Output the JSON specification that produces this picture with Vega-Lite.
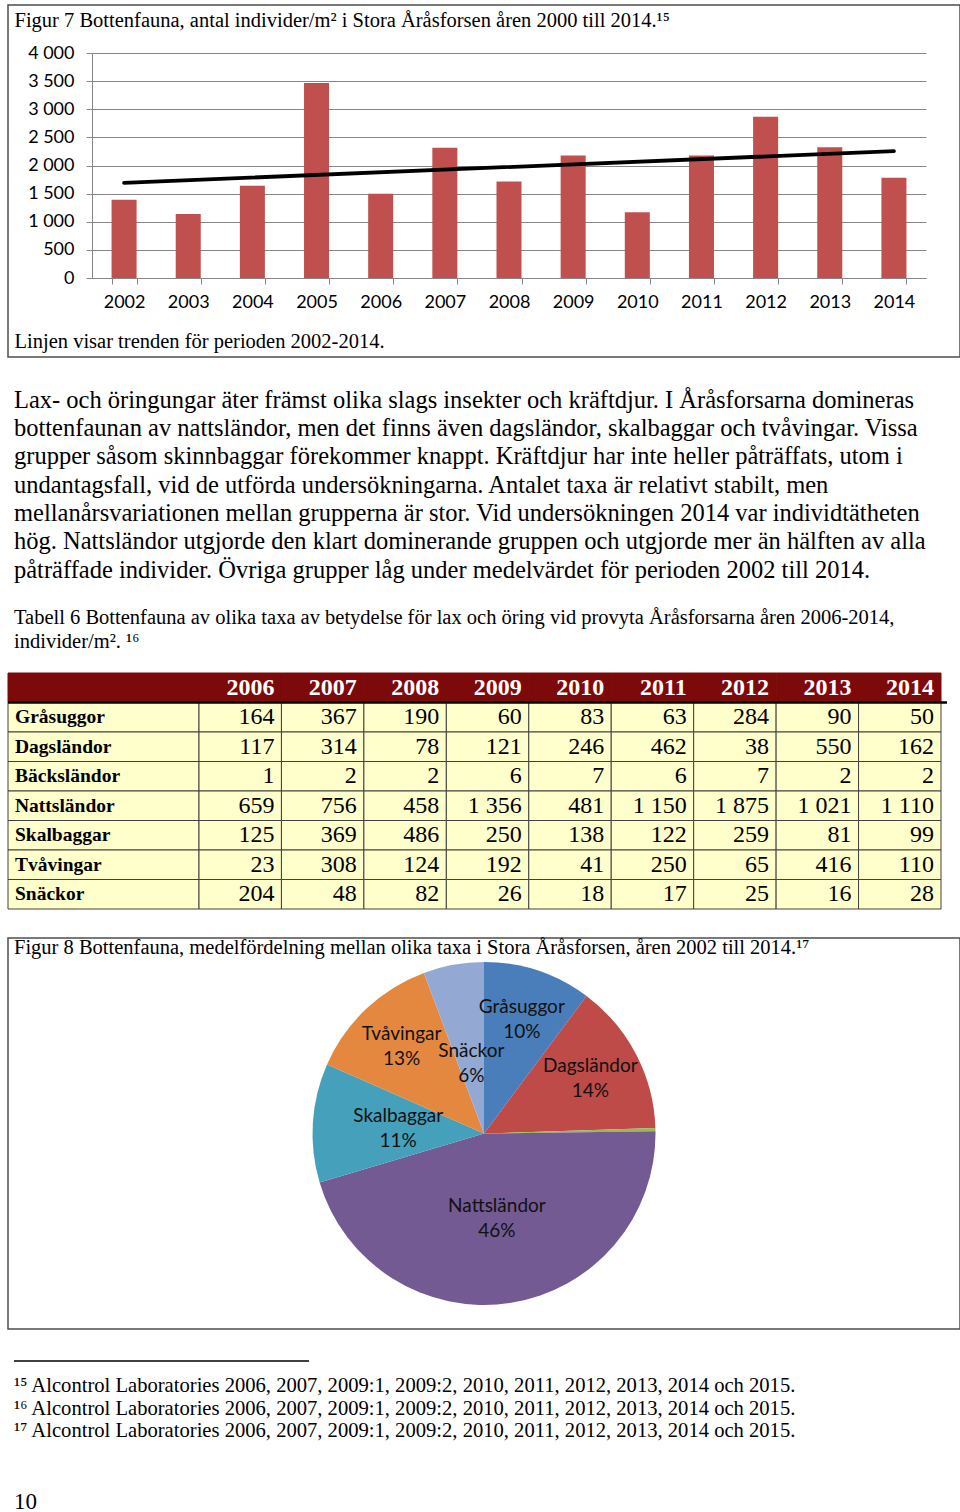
{
  "$schema": "https://vega.github.io/schema/vega-lite/v6.json",
  "padding": {"left": 6, "top": 4, "right": 2, "bottom": 0},
  "autosize": {"type": "pad"},
  "background": "white",
  "spacing": 0,
  "bounds": "flush",
  "center": true,
  "config": {
    "view": {"stroke": null},
    "locale": {"number": {"decimal": ",", "thousands": "\u00a0", "grouping": [3], "currency": ["", ""]}},
    "text": {"font": "Liberation Serif", "color": "#000"}
  },
  "datasets": {
    "bars": [
      {"year": "2002", "value": 1389}, {"year": "2003", "value": 1140}, {"year": "2004", "value": 1638},
      {"year": "2005", "value": 3466}, {"year": "2006", "value": 1496}, {"year": "2007", "value": 2315},
      {"year": "2008", "value": 1715}, {"year": "2009", "value": 2178}, {"year": "2010", "value": 1168},
      {"year": "2011", "value": 2178}, {"year": "2012", "value": 2867}, {"year": "2013", "value": 2326},
      {"year": "2014", "value": 1781}
    ],
    "trend": [{"year": "2002", "value": 1692}, {"year": "2014", "value": 2255}],
    "para": [
      {"line": 1, "text": "Lax- och öringungar äter främst olika slags insekter och kräftdjur. I Åråsforsarna domineras"},
      {"line": 2, "text": "bottenfaunan av nattsländor, men det finns även dagsländor, skalbaggar och tvåvingar. Vissa"},
      {"line": 3, "text": "grupper såsom skinnbaggar förekommer knappt. Kräftdjur har inte heller påträffats, utom i"},
      {"line": 4, "text": "undantagsfall, vid de utförda undersökningarna. Antalet taxa är relativt stabilt, men"},
      {"line": 5, "text": "mellanårsvariationen mellan grupperna är stor. Vid undersökningen 2014 var individtätheten"},
      {"line": 6, "text": "hög. Nattsländor utgjorde den klart dominerande gruppen och utgjorde mer än hälften av alla"},
      {"line": 7, "text": "påträffade individer. Övriga grupper låg under medelvärdet för perioden 2002 till 2014."}
    ],
    "caption": [
      {"line": 1, "text": "Tabell 6 Bottenfauna av olika taxa av betydelse för lax och öring vid provyta Åråsforsarna åren 2006-2014,"},
      {"line": 2, "text": "individer/m². ¹⁶"}
    ],
    "table": [
      {"taxon": "Gråsuggor", "2006": 164, "2007": 367, "2008": 190, "2009": 60, "2010": 83, "2011": 63, "2012": 284, "2013": 90, "2014": 50},
      {"taxon": "Dagsländor", "2006": 117, "2007": 314, "2008": 78, "2009": 121, "2010": 246, "2011": 462, "2012": 38, "2013": 550, "2014": 162},
      {"taxon": "Bäcksländor", "2006": 1, "2007": 2, "2008": 2, "2009": 6, "2010": 7, "2011": 6, "2012": 7, "2013": 2, "2014": 2},
      {"taxon": "Nattsländor", "2006": 659, "2007": 756, "2008": 458, "2009": 1356, "2010": 481, "2011": 1150, "2012": 1875, "2013": 1021, "2014": 1110},
      {"taxon": "Skalbaggar", "2006": 125, "2007": 369, "2008": 486, "2009": 250, "2010": 138, "2011": 122, "2012": 259, "2013": 81, "2014": 99},
      {"taxon": "Tvåvingar", "2006": 23, "2007": 308, "2008": 124, "2009": 192, "2010": 41, "2011": 250, "2012": 65, "2013": 416, "2014": 110},
      {"taxon": "Snäckor", "2006": 204, "2007": 48, "2008": 82, "2009": 26, "2010": 18, "2011": 17, "2012": 25, "2013": 16, "2014": 28}
    ],
    "years": [
      {"year": "2006"}, {"year": "2007"}, {"year": "2008"}, {"year": "2009"}, {"year": "2010"},
      {"year": "2011"}, {"year": "2012"}, {"year": "2013"}, {"year": "2014"}
    ],
    "pie": [
      {"nr": 1, "taxon": "Gråsuggor", "share": 0.102},
      {"nr": 2, "taxon": "Dagsländor", "share": 0.143},
      {"nr": 3, "taxon": "Bäcksländor", "share": 0.003},
      {"nr": 4, "taxon": "Nattsländor", "share": 0.456},
      {"nr": 5, "taxon": "Skalbaggar", "share": 0.112},
      {"nr": 6, "taxon": "Tvåvingar", "share": 0.127},
      {"nr": 7, "taxon": "Snäckor", "share": 0.057}
    ],
    "notes": [
      {"nr": 15, "text": "¹⁵ Alcontrol Laboratories 2006, 2007, 2009:1, 2009:2, 2010, 2011, 2012, 2013, 2014 och 2015."},
      {"nr": 16, "text": "¹⁶ Alcontrol Laboratories 2006, 2007, 2009:1, 2009:2, 2010, 2011, 2012, 2013, 2014 och 2015."},
      {"nr": 17, "text": "¹⁷ Alcontrol Laboratories 2006, 2007, 2009:1, 2009:2, 2010, 2011, 2012, 2013, 2014 och 2015."}
    ],
    "page": [{"text": "10"}]
  },
  "vconcat": [
    {
      "width": 952,
      "height": 352,
      "view": {"stroke": "#4d4d4d", "strokeWidth": 1.5},
      "encoding": {
        "x": {
          "field": "year", "type": "ordinal",
          "scale": {"range": [84, 918], "paddingInner": 0.61, "paddingOuter": 0.305},
          "axis": {
            "orient": "bottom", "offset": -79, "labelAngle": 0, "labelFont": "Lato", "labelFontSize": 18,
            "labelColor": "#000", "labelPadding": 9, "domainColor": "#868686", "tickColor": "#868686",
            "tickSize": 6, "tickBand": "extent", "grid": false,
            "title": "Linjen visar trenden för perioden 2002-2014.",
            "titleFont": "Liberation Serif", "titleFontSize": 20.5, "titleFontWeight": "normal", "titleColor": "#000",
            "titleAlign": "left", "titleBaseline": "alphabetic", "titleX": 6, "titleY": 69.7
          }
        },
        "y": {
          "field": "value", "type": "quantitative",
          "scale": {"domain": [0, 4000], "range": [273, 48], "nice": false},
          "axis": {
            "values": [0, 500, 1000, 1500, 2000, 2500, 3000, 3500, 4000], "format": ",d",
            "offset": -84, "grid": true, "gridColor": "#868686", "gridWidth": 1,
            "domainColor": "#868686", "tickColor": "#868686", "tickSize": 6,
            "labelFont": "Lato", "labelFontSize": 18, "labelColor": "#000", "labelPadding": 12,
            "title": "Figur 7 Bottenfauna, antal individer/m² i Stora Åråsforsen åren 2000 till 2014.¹⁵",
            "titleAngle": 0, "titleAlign": "left", "titleBaseline": "alphabetic", "titleX": -78, "titleY": 21,
            "titleFont": "Liberation Serif", "titleFontSize": 20.5, "titleFontWeight": "normal", "titleColor": "#000"
          }
        }
      },
      "layer": [
        {"data": {"name": "bars"}, "mark": {"type": "bar", "color": "#C0504D"}},
        {"data": {"name": "trend"}, "mark": {"type": "line", "color": "#000", "strokeWidth": 3.8, "strokeCap": "round"}}
      ]
    },
    {
      "width": 940,
      "height": 316,
      "resolve": {"scale": {"y": "independent"}},
      "layer": [
        {
          "data": {"name": "para"},
          "mark": {"type": "text", "align": "left", "baseline": "alphabetic", "font": "Liberation Serif", "fontSize": 24.5},
          "encoding": {
            "x": {"value": 0},
            "y": {"field": "line", "type": "ordinal", "scale": {"type": "point", "padding": 0, "range": [50.7, 220.7]}, "axis": null},
            "text": {"field": "text"}
          }
        },
        {
          "data": {"name": "caption"},
          "mark": {"type": "text", "align": "left", "baseline": "alphabetic", "font": "Liberation Serif", "fontSize": 20.5},
          "encoding": {
            "x": {"value": 0},
            "y": {"field": "line", "type": "ordinal", "scale": {"type": "point", "padding": 0, "range": [267.3, 290.7]}, "axis": null},
            "text": {"field": "text"}
          }
        }
      ]
    },
    {
      "width": 952,
      "height": 265,
      "resolve": {"scale": {"x": "independent"}},
      "layer": [
        {
          "data": {"values": [{"taxon": "header"}]},
          "mark": {"type": "rect", "fill": "#7d0a0a", "stroke": "#7d0a0a"},
          "encoding": {
            "x": {"datum": "label", "type": "nominal", "scale": {"domain": ["label"], "range": [0, 191], "paddingInner": 0, "paddingOuter": 0}, "axis": null},
            "y": {"field": "taxon", "type": "nominal", "scale": {"domain": ["header", "Gråsuggor", "Dagsländor", "Bäcksländor", "Nattsländor", "Skalbaggar", "Tvåvingar", "Snäckor"], "range": [0, 236], "paddingInner": 0, "paddingOuter": 0}, "axis": null}
          }
        },
        {
          "data": {"name": "table"},
          "mark": {"type": "rect", "fill": "#FFFFCC", "stroke": "#404040", "strokeWidth": 1},
          "encoding": {
            "x": {"datum": "label", "type": "nominal", "scale": {"domain": ["label"], "range": [0, 191], "paddingInner": 0, "paddingOuter": 0}, "axis": null},
            "y": {"field": "taxon", "type": "nominal", "axis": null}
          }
        },
        {
          "data": {"name": "table"},
          "mark": {"type": "text", "align": "left", "baseline": "middle", "dx": 7, "fontWeight": "bold", "fontSize": 19.5, "font": "Liberation Serif"},
          "encoding": {
            "x": {"value": 0},
            "y": {"field": "taxon", "type": "nominal", "axis": null},
            "text": {"field": "taxon"}
          }
        },
        {
          "data": {"name": "years"},
          "mark": {"type": "rect", "fill": "#7d0a0a", "stroke": "#7d0a0a"},
          "encoding": {
            "x": {"field": "year", "type": "ordinal", "scale": {"range": [191, 933], "paddingInner": 0, "paddingOuter": 0}, "axis": null},
            "y": {"datum": "header", "type": "nominal", "axis": null}
          }
        },
        {
          "data": {"name": "table"},
          "transform": [{"fold": ["2006", "2007", "2008", "2009", "2010", "2011", "2012", "2013", "2014"], "as": ["year", "value"]}],
          "mark": {"type": "rect", "fill": "#FFFFCC", "stroke": "#404040", "strokeWidth": 1},
          "encoding": {
            "x": {"field": "year", "type": "ordinal", "scale": {"range": [191, 933], "paddingInner": 0, "paddingOuter": 0}, "axis": null},
            "y": {"field": "taxon", "type": "nominal", "axis": null}
          }
        },
        {
          "data": {"name": "years"},
          "mark": {"type": "text", "align": "right", "baseline": "middle", "dx": 34.2, "fontWeight": "bold", "fontSize": 24, "font": "Liberation Serif", "color": "#fff"},
          "encoding": {
            "x": {"field": "year", "type": "ordinal", "scale": {"range": [191, 933], "paddingInner": 0, "paddingOuter": 0}, "axis": null},
            "y": {"datum": "header", "type": "nominal", "axis": null},
            "text": {"field": "year"}
          }
        },
        {
          "data": {"name": "table"},
          "transform": [{"fold": ["2006", "2007", "2008", "2009", "2010", "2011", "2012", "2013", "2014"], "as": ["year", "value"]}],
          "mark": {"type": "text", "align": "right", "baseline": "middle", "dx": 34.2, "fontSize": 24, "font": "Liberation Serif"},
          "encoding": {
            "x": {"field": "year", "type": "ordinal", "scale": {"range": [191, 933], "paddingInner": 0, "paddingOuter": 0}, "axis": null},
            "y": {"field": "taxon", "type": "nominal", "axis": null},
            "text": {"field": "value", "type": "quantitative", "format": ",d"}
          }
        },
        {
          "data": {"name": "table"},
          "transform": [{"filter": "datum.taxon == 'Gråsuggor'"}],
          "mark": {"type": "rule", "color": "#000", "strokeWidth": 2.5},
          "encoding": {
            "x": {"datum": 0, "type": "quantitative", "scale": {"domain": [0, 1], "range": [0, 939]}, "axis": null},
            "x2": {"datum": 1},
            "y": {"field": "taxon", "type": "nominal", "bandPosition": 0, "axis": null}
          }
        }
      ]
    },
    {
      "width": 952,
      "height": 391,
      "view": {"stroke": "#4d4d4d", "strokeWidth": 1.5},
      "title": {
        "text": "Figur 8 Bottenfauna, medelfördelning mellan olika taxa i Stora Åråsforsen, åren 2002 till 2014.¹⁷",
        "anchor": "start", "frame": "group", "offset": -24, "dx": 6, "dy": 12, "baseline": "alphabetic",
        "font": "Liberation Serif", "fontSize": 20.5, "fontWeight": "normal", "color": "#000"
      },
      "data": {"name": "pie"},
      "encoding": {
        "theta": {"field": "share", "type": "quantitative", "stack": true},
        "order": {"field": "nr", "type": "quantitative"}
      },
      "layer": [
        {"mark": {"type": "arc", "outerRadius": 171.5},
         "encoding": {"color": {"field": "taxon", "type": "nominal",
           "scale": {"domain": ["Gråsuggor", "Dagsländor", "Bäcksländor", "Nattsländor", "Skalbaggar", "Tvåvingar", "Snäckor"],
                     "range": ["#4a7ebb", "#be4b48", "#98b954", "#735a93", "#45a0bc", "#e4883f", "#93a9d3"]},
           "legend": null}}},
        {"mark": {"type": "text", "radius": 120, "dy": -12.5, "font": "Lato", "fontSize": 19, "color": "#111"},
         "encoding": {"detail": {"field": "taxon"}, "text": {"condition": {"test": "indexof(['Gråsuggor','Dagsländor','Tvåvingar'], datum.taxon) < 0", "value": ""}, "field": "taxon"}}},
        {"mark": {"type": "text", "radius": 120, "dy": 12.5, "font": "Lato", "fontSize": 19, "color": "#111"},
         "encoding": {"detail": {"field": "taxon"}, "text": {"condition": {"test": "indexof(['Gråsuggor','Dagsländor','Tvåvingar'], datum.taxon) < 0", "value": ""}, "field": "share", "type": "quantitative", "format": ".0%"}}},
        {"mark": {"type": "text", "radius": 86, "dy": -12.5, "font": "Lato", "fontSize": 19, "color": "#111"},
         "encoding": {"detail": {"field": "taxon"}, "text": {"condition": {"test": "indexof(['Nattsländor','Skalbaggar'], datum.taxon) < 0", "value": ""}, "field": "taxon"}}},
        {"mark": {"type": "text", "radius": 86, "dy": 12.5, "font": "Lato", "fontSize": 19, "color": "#111"},
         "encoding": {"detail": {"field": "taxon"}, "text": {"condition": {"test": "indexof(['Nattsländor','Skalbaggar'], datum.taxon) < 0", "value": ""}, "field": "share", "type": "quantitative", "format": ".0%"}}},
        {"mark": {"type": "text", "radius": 71, "dy": -12.5, "font": "Lato", "fontSize": 19, "color": "#111"},
         "encoding": {"detail": {"field": "taxon"}, "text": {"condition": {"test": "datum.taxon != 'Snäckor'", "value": ""}, "field": "taxon"}}},
        {"mark": {"type": "text", "radius": 71, "dy": 12.5, "font": "Lato", "fontSize": 19, "color": "#111"},
         "encoding": {"detail": {"field": "taxon"}, "text": {"condition": {"test": "datum.taxon != 'Snäckor'", "value": ""}, "field": "share", "type": "quantitative", "format": ".0%"}}}
      ]
    },
    {
      "width": 940,
      "height": 184,
      "resolve": {"scale": {"y": "independent", "x": "independent"}},
      "layer": [
        {
          "data": {"values": [{"nr": 0}]},
          "mark": {"type": "rule", "color": "#000", "strokeWidth": 1.3},
          "encoding": {
            "x": {"datum": 0, "type": "quantitative", "scale": {"domain": [0, 1], "range": [0, 295]}, "axis": null},
            "x2": {"datum": 1},
            "y": {"field": "nr", "type": "ordinal", "scale": {"type": "point", "padding": 0, "range": [32, 32]}, "axis": null}
          }
        },
        {
          "data": {"name": "notes"},
          "mark": {"type": "text", "align": "left", "baseline": "alphabetic", "font": "Liberation Serif", "fontSize": 20.6},
          "encoding": {
            "x": {"value": 0},
            "y": {"field": "nr", "type": "ordinal", "scale": {"type": "point", "padding": 0, "range": [63, 108]}, "axis": null},
            "text": {"field": "text"}
          }
        },
        {
          "data": {"name": "page"},
          "mark": {"type": "text", "align": "left", "baseline": "alphabetic", "font": "Liberation Serif", "fontSize": 23},
          "encoding": {
            "x": {"value": 0},
            "y": {"field": "text", "type": "ordinal", "scale": {"type": "point", "padding": 0, "range": [180, 180]}, "axis": null},
            "text": {"field": "text"}
          }
        }
      ]
    }
  ]
}
